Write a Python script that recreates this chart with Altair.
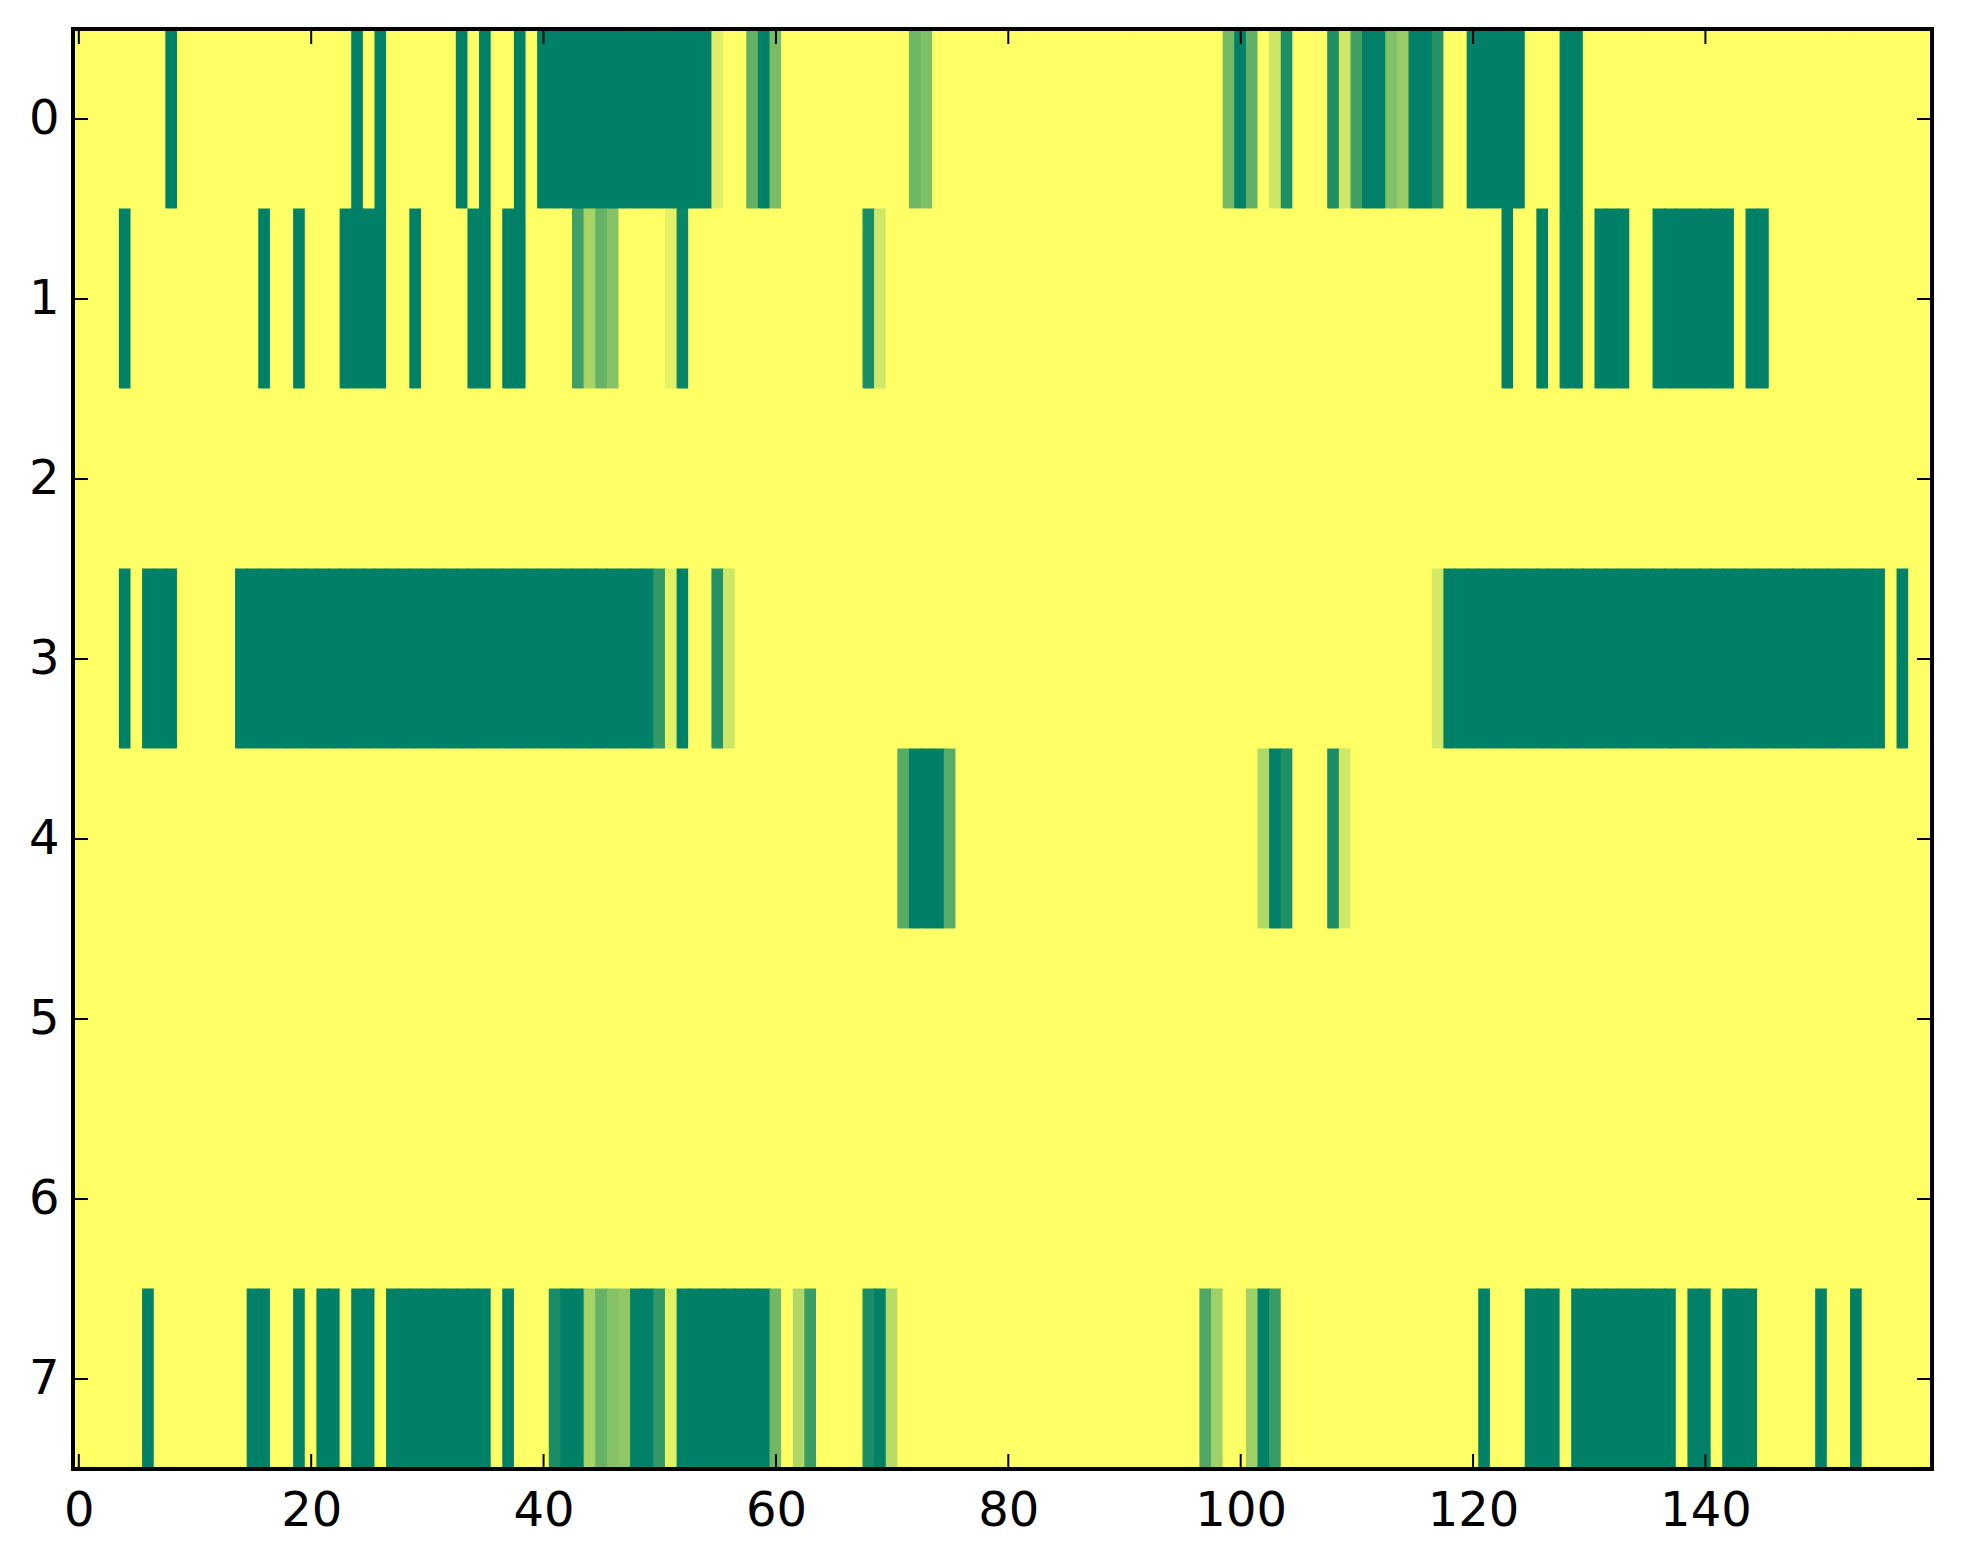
import altair as alt
import pandas as pd

N_COLS = 160
N_ROWS = 8
x_ticks = [0, 20, 40, 60, 80, 100, 120, 140]
y_ticks = [0, 1, 2, 3, 4, 5, 6, 7]

# cells at full value (1.0), per row
row0_full = [8, 24, 26, 33, 35, 38] + list(range(40, 55)) + [59, 100, 111, 112, 115, 116] + list(range(120, 125)) + [128, 129]
row0_part = {55: 0.13, 58: 0.62, 60: 0.53, 72: 0.57, 73: 0.51, 99: 0.55, 101: 0.62, 103: 0.20,
             104: 0.88, 108: 0.88, 109: 0.19, 110: 0.75, 113: 0.50, 114: 0.40, 117: 0.85}

row1_full = [4, 16, 19, 23, 24, 25, 26, 29, 34, 35, 37, 38, 123, 126, 128, 129, 131, 132, 133, 136] + list(range(137, 143)) + [144, 145]
row1_part = {43: 0.75, 44: 0.34, 45: 0.60, 46: 0.48, 51: 0.11, 52: 0.96, 68: 0.90, 69: 0.19}

row2_full = []
row2_part = {}

row3_full = [4, 6, 7, 8] + list(range(14, 50)) + [52] + list(range(118, 156)) + [157]
row3_part = {50: 0.80, 51: 0.11, 55: 0.86, 56: 0.20, 117: 0.17}

row4_full = [72, 73, 74, 103]
row4_part = {71: 0.65, 75: 0.65, 102: 0.31, 104: 0.88, 108: 0.89, 109: 0.18}

row5_full = []
row5_part = {}
row6_full = []
row6_part = {}

row7_full = [6, 15, 16, 19, 21, 22, 24, 25] + list(range(27, 36)) + [37, 42, 43, 48, 49] + list(range(52, 60)) + \
            [69, 102, 121, 125, 126, 127] + list(range(129, 138)) + [139, 140, 142, 143, 144, 150, 153]
row7_part = {41: 0.90, 44: 0.34, 45: 0.60, 46: 0.48, 47: 0.44, 50: 0.80, 51: 0.11, 60: 0.56, 62: 0.31,
             63: 0.77, 68: 0.90, 70: 0.28, 97: 0.69, 98: 0.37, 101: 0.37, 103: 0.78}

rows_full = [row0_full, row1_full, row2_full, row3_full, row4_full, row5_full, row6_full, row7_full]
rows_part = [row0_part, row1_part, row2_part, row3_part, row4_part, row5_part, row6_part, row7_part]

records = []
for r in range(N_ROWS):
    for c in range(N_COLS):
        v = 0.0
        if c in rows_full[r]:
            v = 1.0
        elif c in rows_part[r]:
            v = rows_part[r][c]
        records.append({"col": c, "row": r, "v": v})
df = pd.DataFrame(records)

W, H = 1859, 1440
TL = 15

xscale = alt.Scale(domain=[-0.5, N_COLS - 0.5], nice=False, zero=False)
yscale = alt.Scale(domain=[-0.5, N_ROWS - 0.5], nice=False, zero=False, reverse=True)
cscale = alt.Scale(domain=[0, 1], range=["#ffff66", "#008066"], interpolate="rgb")

heat = alt.Chart(df).transform_calculate(
    x0="datum.col - 0.5", x1="datum.col + 0.5",
    y0="datum.row - 0.5", y1="datum.row + 0.5",
).mark_rect(strokeWidth=1.2).encode(
    x=alt.X("x0:Q", scale=xscale, title=None,
            axis=alt.Axis(values=x_ticks, labelPadding=18, format="d")),
    x2="x1:Q",
    y=alt.Y("y0:Q", scale=yscale, title=None,
            axis=alt.Axis(values=y_ticks, labelPadding=14, format="d")),
    y2="y1:Q",
    color=alt.Color("v:Q", scale=cscale, legend=None),
    stroke=alt.Stroke("v:Q", scale=cscale, legend=None),
)

xt = pd.DataFrame({"t": x_ticks})
yt = pd.DataFrame({"t": y_ticks})

bottom_ticks = alt.Chart(xt).mark_rule(color="black", strokeWidth=2).encode(
    x=alt.X("t:Q", scale=xscale), y=alt.value(H), y2=alt.value(H - TL))
top_ticks = alt.Chart(xt).mark_rule(color="black", strokeWidth=2).encode(
    x=alt.X("t:Q", scale=xscale), y=alt.value(0), y2=alt.value(TL))
left_ticks = alt.Chart(yt).mark_rule(color="black", strokeWidth=2).encode(
    y=alt.Y("t:Q", scale=yscale), x=alt.value(0), x2=alt.value(TL))
right_ticks = alt.Chart(yt).mark_rule(color="black", strokeWidth=2).encode(
    y=alt.Y("t:Q", scale=yscale), x=alt.value(W), x2=alt.value(W - TL))

# plot frame (spines)
frame_top = alt.Chart(xt).mark_rule(color="black", strokeWidth=3, strokeCap="square").encode(
    x=alt.value(0), x2=alt.value(W), y=alt.value(0))
frame_bottom = alt.Chart(xt).mark_rule(color="black", strokeWidth=3, strokeCap="square").encode(
    x=alt.value(0), x2=alt.value(W), y=alt.value(H))
frame_left = alt.Chart(xt).mark_rule(color="black", strokeWidth=3, strokeCap="square").encode(
    y=alt.value(0), y2=alt.value(H), x=alt.value(0))
frame_right = alt.Chart(xt).mark_rule(color="black", strokeWidth=3, strokeCap="square").encode(
    y=alt.value(0), y2=alt.value(H), x=alt.value(W))

chart = alt.layer(heat, bottom_ticks, top_ticks, left_ticks, right_ticks,
                  frame_top, frame_bottom, frame_left, frame_right).properties(
    width=W, height=H,
    autosize=alt.AutoSizeParams(type="none"),
    padding={"left": 65, "top": 21, "right": 23, "bottom": 87},
    background="white",
).configure_view(
    stroke=None
).configure_axis(
    labelFont="DejaVu Sans", labelFontSize=48, labelColor="black",
    ticks=False, tickSize=0, domain=False, grid=False,
)

chart.save("out.html", embed_options={"renderer": "svg", "actions": False})
